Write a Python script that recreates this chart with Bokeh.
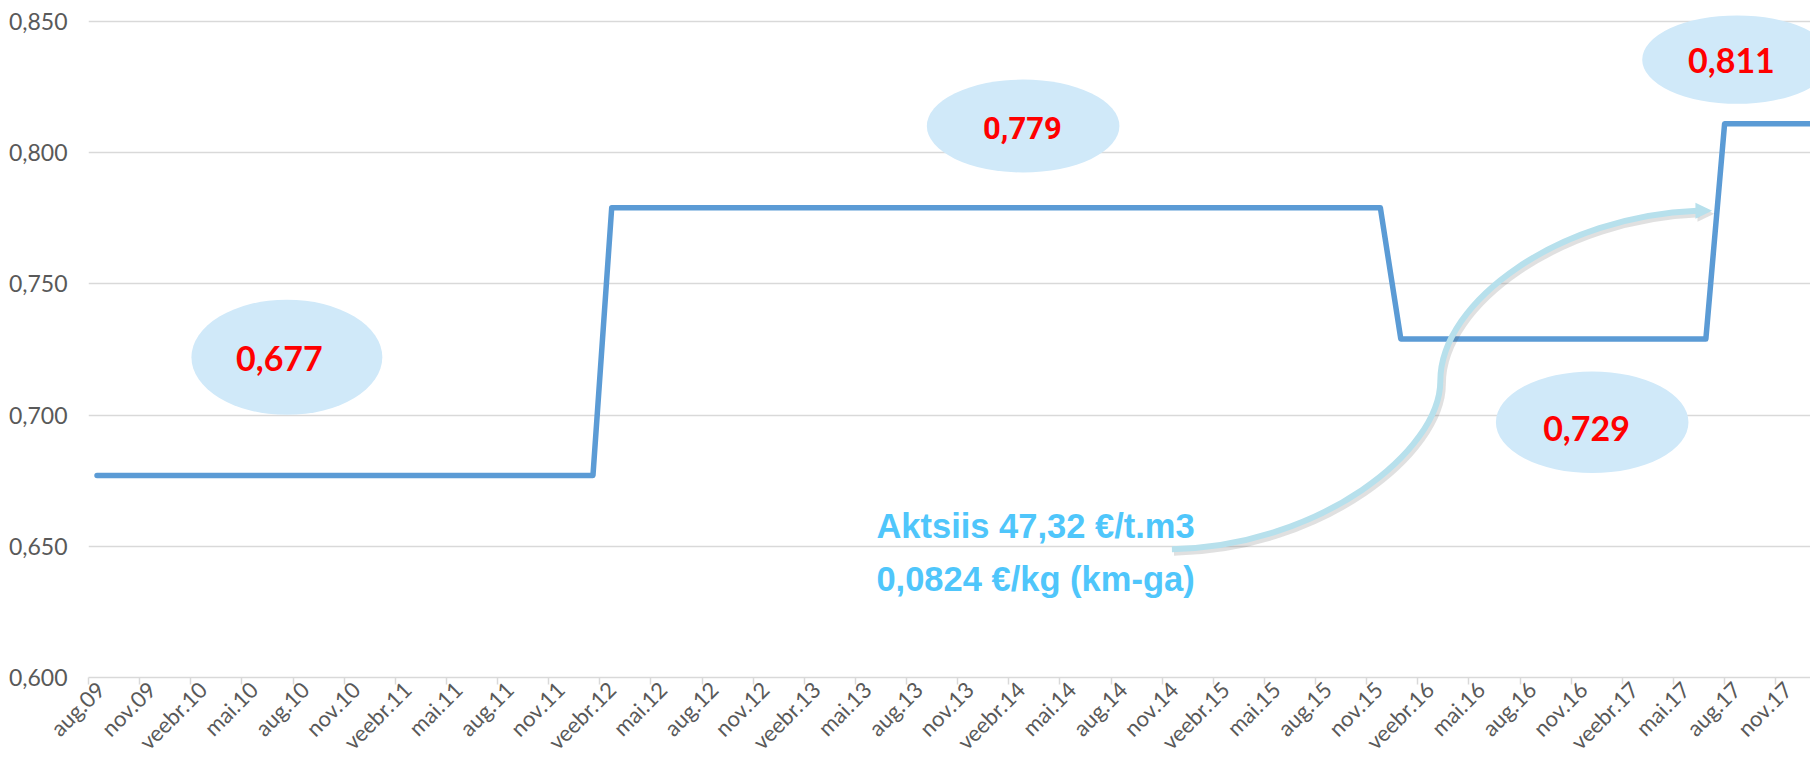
import math
from bokeh.plotting import figure
from bokeh.models import Range1d, FixedTicker, CustomJSTickFormatter
from bokeh.core.properties import value
from bokeh.embed import file_html
from bokeh.resources import INLINE

# ---------------- data ----------------
# x is counted in months from 1 Aug 2009 (start of the "aug.09" slot)
tick_labels = ["aug.09", "nov.09", "veebr.10", "mai.10", "aug.10", "nov.10",
               "veebr.11", "mai.11", "aug.11", "nov.11", "veebr.12", "mai.12",
               "aug.12", "nov.12", "veebr.13", "mai.13", "aug.13", "nov.13",
               "veebr.14", "mai.14", "aug.14", "nov.14", "veebr.15", "mai.15",
               "aug.15", "nov.15", "veebr.16", "mai.16", "aug.16", "nov.16",
               "veebr.17", "mai.17", "aug.17", "nov.17"]
tick_months = [3 * i for i in range(len(tick_labels))]

price_month = [0.5, 29.6, 30.7, 75.8, 77.0, 94.9, 96.0, 102.0]
price_value = [0.677, 0.677, 0.779, 0.779, 0.729, 0.729, 0.811, 0.811]

label_text = ["0,677", "0,729", "0,811"]
label_month = [11.2, 87.9, 96.4]
label_value = [0.7214, 0.6947, 0.8350]

label2_text = ["0,779"]
label2_month = [54.8]
label2_value = [0.8093]

y_ticks = [0.600, 0.650, 0.700, 0.750, 0.800, 0.850]

# annotation layout (bubbles, note, arrow)
bubble_month = [11.64, 54.84, 88.23, 96.74]
bubble_value = [0.7220, 0.8101, 0.69725, 0.8354]
bubble_w = [11.2, 11.3, 11.3, 11.15]
bubble_h = [0.0439, 0.0354, 0.0387, 0.0337]

note_lines = ["Aktsiis 47,32 €/t.m3", "0,0824 €/kg (km-ga)"]
note_month = [46.23, 46.23]
note_value = [0.6577, 0.6374]

arrow_x0 = [63.57, 79.32]
arrow_y0 = [0.6489, 0.71301]
arrow_cx0 = [72.28, 79.32]
arrow_cy0 = [0.65004, 0.74352]
arrow_cx1 = [79.32, 86.37]
arrow_cy1 = [0.68631, 0.77593]
arrow_x1 = [79.32, 94.4]
arrow_y1 = [0.71301, 0.77784]
head_x = [94.29, 95.27, 94.29]
head_y = [0.78089, 0.77784, 0.77479]

# ---------------- figure ----------------
p = figure(width=1810, height=767,
           x_range=Range1d(0, 101.04), y_range=Range1d(0.6, 0.85488),
           output_backend="svg", toolbar_location=None,
           min_border_left=88, min_border_right=0, min_border_top=8,
           min_border_bottom=90)
p.outline_line_color = None
p.background_fill_color = "white"
p.border_fill_color = "white"

# y axis
p.yaxis.ticker = FixedTicker(ticks=y_ticks)
p.yaxis.formatter = CustomJSTickFormatter(code="return tick.toFixed(3).replace('.', ',');")
p.yaxis.axis_line_color = None
p.yaxis.major_tick_line_color = None
p.yaxis.minor_tick_line_color = None
p.yaxis.major_tick_out = 0
p.yaxis.major_tick_in = 0
p.yaxis.major_label_standoff = 21
p.yaxis.major_label_text_font = "Lato"
p.yaxis.major_label_text_font_size = "23px"
p.yaxis.major_label_text_color = "#595959"

p.ygrid.ticker = FixedTicker(ticks=y_ticks)
p.ygrid.grid_line_color = "#d9d9d9"
p.ygrid.grid_line_width = 1.3
p.xgrid.grid_line_color = None

# x axis: labels sit a little right of the tick marks (as in the original);
# the visible tick marks are the minor ticks at the slot boundaries
lab_ticks = [m + 0.7 for m in tick_months]
xa = p.xaxis[0]
xa.ticker = FixedTicker(ticks=lab_ticks, minor_ticks=tick_months)
xa.major_label_overrides = {t: lab for t, lab in zip(lab_ticks, tick_labels)}
xa.major_label_orientation = math.pi / 4
xa.axis_line_color = "#d9d9d9"
xa.axis_line_width = 1.5
xa.major_tick_line_color = None
xa.major_tick_out = 0
xa.major_tick_in = 0
xa.minor_tick_line_color = "#d9d9d9"
xa.minor_tick_line_width = 1.5
xa.minor_tick_out = 7
xa.minor_tick_in = 0
xa.major_label_standoff = 1
xa.major_label_text_font = "Lato"
xa.major_label_text_font_size = "22px"
xa.major_label_text_color = "#595959"

# series line
p.line(price_month, price_value, line_color="#5b9bd5", line_width=5.5,
       line_join="round", line_cap="round")

# bubbles
p.ellipse(x=bubble_month, y=bubble_value, width=bubble_w, height=bubble_h,
          fill_color="#d0e9f9", line_color=None)

# value labels
p.text(x=label_month, y=label_value, text=label_text, text_font=value("Lato"),
       text_font_style="bold", text_font_size="34px", text_color="#ff0000",
       text_align="center", text_baseline="middle")
p.text(x=label2_month, y=label2_value, text=label2_text,
       text_font=value("Roboto"),
       text_font_style="bold", text_font_size="31px", text_color="#ff0000",
       text_align="center", text_baseline="middle")

# note text
p.text(x=note_month, y=note_value, text=note_lines, text_font=value("Liberation Sans"),
       text_font_style="bold", text_font_size="34.5px", text_color="#4fc6fb",
       text_align="left", text_baseline="alphabetic")

# curved arrow with soft shadow
dx, dy = 0.12, -0.00114
p.bezier(x0=[v + dx for v in arrow_x0], y0=[v + dy for v in arrow_y0],
         x1=[v + dx for v in arrow_x1], y1=[v + dy for v in arrow_y1],
         cx0=[v + dx for v in arrow_cx0], cy0=[v + dy for v in arrow_cy0],
         cx1=[v + dx for v in arrow_cx1], cy1=[v + dy for v in arrow_cy1],
         line_color="#555555", line_alpha=0.18, line_width=7)
p.patch([v + dx for v in head_x], [v + dy for v in head_y], fill_color="#555555",
        fill_alpha=0.18, line_color=None)
p.bezier(x0=arrow_x0, y0=arrow_y0, x1=arrow_x1, y1=arrow_y1,
         cx0=arrow_cx0, cy0=arrow_cy0, cx1=arrow_cx1, cy1=arrow_cy1,
         line_color="#b7e0ec", line_width=6)
p.patch(head_x, head_y, fill_color="#b7e0ec", line_color=None)

open("out.html", "w").write(file_html(p, INLINE))
